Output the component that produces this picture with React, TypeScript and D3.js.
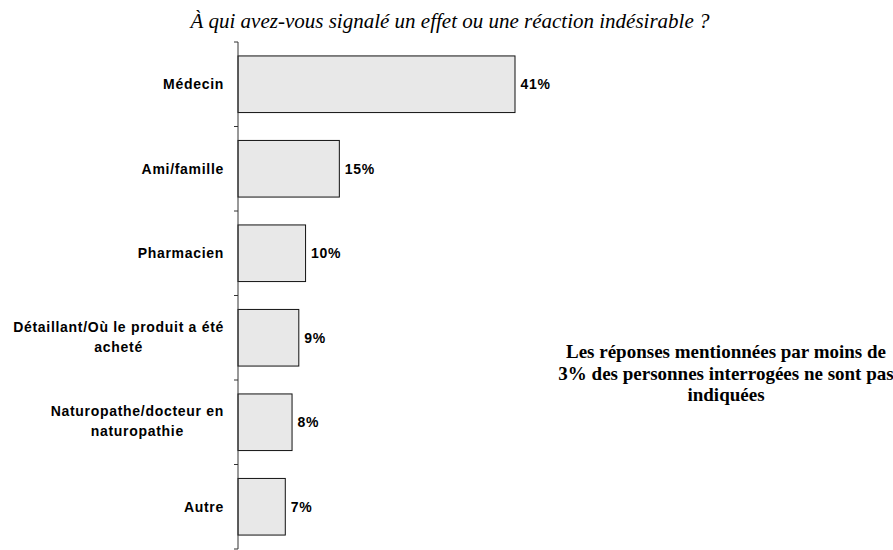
import React from "react";
import * as d3 from "d3";

const categories: string[][] = [
  ["Médecin"],
  ["Ami/famille"],
  ["Pharmacien"],
  ["Détaillant/Où le produit a été", "acheté"],
  ["Naturopathe/docteur en", "naturopathie"],
  ["Autre"],
];
const values: number[] = [41, 15, 10, 9, 8, 7];
const title = "À qui avez-vous signalé un effet ou une réaction indésirable ?";
const noteLines = [
  "Les réponses mentionnées par moins de",
  "3% des personnes interrogées ne sont pas",
  "indiquées",
];

const labelFont = "Arial, 'Liberation Sans', sans-serif";
const FS = 14;
const LS = 0.7;

function measure(s: string): number {
  if (typeof document === "undefined") return s.length * 7.5;
  const c = document.createElement("canvas");
  const ctx = c.getContext("2d");
  if (!ctx) return s.length * 7.5;
  ctx.font = `bold ${FS}px ${labelFont}`;
  return ctx.measureText(s).width + LS * s.length;
}

export default function App() {
  const W = 893, H = 550;
  const x0 = 238;
  const top = 42, bottom = 549;
  const ids = categories.map((_, i) => String(i));
  const y = d3.scaleBand<string>().domain(ids).range([top, bottom]).paddingInner(0.33).paddingOuter(0.165);
  const yEdges = d3.range(categories.length + 1).map((i) => top + (i * (bottom - top)) / categories.length);
  const x = d3.scaleLinear().domain([0, 41]).range([x0, 515]);
  const labelRight = 224;
  return (
    <svg width={W} height={H} style={{ position: "absolute", left: 0, top: 0, background: "#fff" }}>
      <text x={450} y={28} textAnchor="middle" fontFamily="'Liberation Serif', 'Times New Roman', serif" fontStyle="italic" fontSize={21} fill="#000">
        {title}
      </text>
      {values.map((v, i) => {
        const yy = y(String(i))!;
        const bw = y.bandwidth();
        const cy = yy + bw / 2;
        const lines = categories[i];
        const maxW = Math.max(...lines.map(measure));
        const cx = labelRight - maxW / 2;
        return (
          <g key={i}>
            <rect x={x(0)} y={yy} width={x(v) - x(0)} height={bw} fill="#e8e8e8" stroke="#111" strokeWidth={1} />
            <text x={x(v) + 5.5} y={cy + 5} fontFamily={labelFont} fontWeight="bold" fontSize={FS} letterSpacing={LS} fill="#000">
              {v}%
            </text>
            {lines.map((ln, j) => (
              <text
                key={j}
                x={lines.length > 1 ? cx : labelRight}
                y={cy + 5 + (j - (lines.length - 1) / 2) * 20 - (lines.length > 1 ? 1 : 0)}
                textAnchor={lines.length > 1 ? "middle" : "end"}
                fontFamily={labelFont}
                fontWeight="bold"
                fontSize={FS}
                letterSpacing={LS}
                fill="#000"
              >
                {ln}
              </text>
            ))}
          </g>
        );
      })}
      <line x1={x0} x2={x0} y1={top} y2={bottom} stroke="#333" strokeWidth={1} />
      {yEdges.map((ye, i) => (
        <line key={i} x1={x0 - 4} x2={x0} y1={ye} y2={ye} stroke="#333" strokeWidth={1} />
      ))}
      {noteLines.map((ln, i) => (
        <text key={i} x={726} y={358 + i * 21.5} textAnchor="middle" fontFamily="'Liberation Serif', 'Times New Roman', serif" fontWeight="bold" fontSize={19} fill="#000">
          {ln}
        </text>
      ))}
    </svg>
  );
}
